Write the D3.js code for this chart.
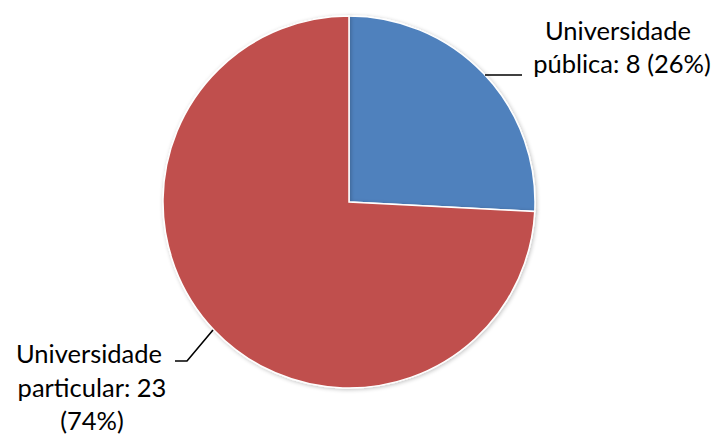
<!DOCTYPE html>
<html><head><meta charset="utf-8">
<script src="https://cdn.jsdelivr.net/npm/d3@7"></script>
<style>html,body{margin:0;padding:0;background:#fff;}svg{display:block;}</style>
</head><body>
<script>
const categories = ["Universidade pública", "Universidade particular"];
const values = [8, 23];
const percents = ["26%", "74%"];
const colors = ["#4F81BD", "#C0504D"];

const W = 721, H = 436;
const svg = d3.select("body").append("svg").attr("width", W).attr("height", H);
const cx = 349, cy = 202, r = 186;

const pie = d3.pie().sort(null).value(d => d.v);
const data = pie(values.map((v, i) => ({v, i})));
const arc = d3.arc().innerRadius(0).outerRadius(r);

const defs = svg.append("defs");
const f = defs.append("filter").attr("id","sh").attr("x","-10%").attr("y","-10%").attr("width","120%").attr("height","120%");
f.append("feGaussianBlur").attr("in","SourceAlpha").attr("stdDeviation",2);
f.append("feOffset").attr("dx",1).attr("dy",1).attr("result","b");
f.append("feComponentTransfer").append("feFuncA").attr("type","linear").attr("slope",0.25);
const m = f.append("feMerge"); m.append("feMergeNode"); m.append("feMergeNode").attr("in","SourceGraphic");

const g = svg.append("g").attr("transform", `translate(${cx},${cy})`);
g.selectAll("path").data(data).join("path")
  .attr("d", arc)
  .attr("fill", d => colors[d.data.i])
  .attr("stroke", "#fff").attr("stroke-width", 1.5)
  .attr("filter","url(#sh)");

const font = "Lato, 'Open Sans', sans-serif";
const fs = 25.5;

// label 1 (right)
const l1 = svg.append("text").attr("font-family", font).attr("font-size", fs).attr("fill", "#000").attr("text-anchor","middle");
l1.append("tspan").attr("x", 618).attr("y", 40).text(categories[0].split(" ")[0]);
l1.append("tspan").attr("x", 622).attr("y", 73).text(`${categories[0].split(" ")[1]}: ${values[0]} (${percents[0]})`);
svg.append("path").attr("fill","none").attr("stroke","#000").attr("stroke-width",1.6)
  .attr("d", d3.line()([[485,75],[522,75]]));

// label 2 (left)
const l2 = svg.append("text").attr("font-family", font).attr("font-size", fs).attr("fill", "#000").attr("text-anchor","middle");
l2.append("tspan").attr("x", 89).attr("y", 363).text(categories[1].split(" ")[0]);
l2.append("tspan").attr("x", 92).attr("y", 397).text(`${categories[1].split(" ")[1]}: ${values[1]}`);
l2.append("tspan").attr("x", 92).attr("y", 430).text(`(${percents[1]})`);
svg.append("path").attr("fill","none").attr("stroke","#000").attr("stroke-width",1.6)
  .attr("d", d3.line()([[175,361],[187,361],[213,330]]));
</script>
</body></html>
